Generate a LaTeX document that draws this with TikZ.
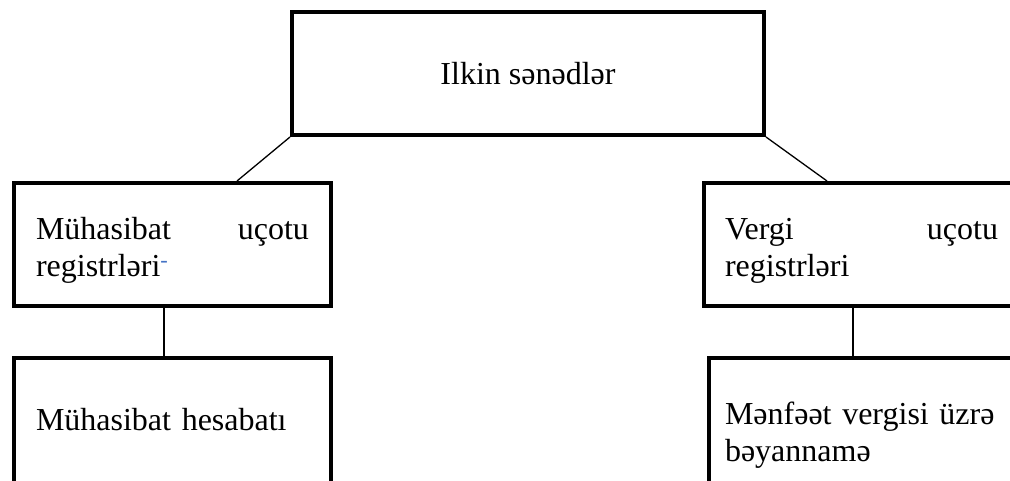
\documentclass[tikz,border=0pt]{standalone}
\usepackage{fontspec}
\setmainfont{Liberation Serif}
\usepackage{tikz}
\definecolor{markblue}{RGB}{68,114,196}

\begin{document}
\begin{tikzpicture}[x=1pt,y=-1pt,font=\fontsize{32}{37}\selectfont,
	box/.style={draw, rectangle, line width=4pt, minimum height=123pt},
	regbox/.style={box, anchor=north west, align=left, text height=25pt},
	link/.style={line width=1.3pt}]
\useasboundingbox (0,0) rectangle (1010,481);
\clip (0,0) rectangle (1010,481);
\node[box, minimum width=472pt] (ilkin) at (528,73.5) {Ilkin sənədlər};
\node[regbox, text width=273pt, inner xsep=22pt, text depth=34pt] (mreg) at (12,181)
	{Mühasibat\hfill uçotu\\registrləri\textsuperscript{\color{markblue}-}};
\node[regbox, minimum height=130pt, text width=273pt, inner xsep=22pt, text depth=11pt] (mrep) at (12,356)
	{Mühasibat hesabatı};
\node[regbox, text width=273pt, inner xsep=21pt, text depth=34pt] (vreg) at (702,181)
	{Vergi\hfill uçotu\\registrləri};
\node[regbox, minimum height=130pt, text width=290pt, inner xsep=16pt, text depth=23pt] (vbey) at (707,356)
	{Mənfəət vergisi üzrə\\bəyannamə};
\path[link]
(ilkin.south west) edge ([xshift=64.5pt]mreg.north)
(ilkin.south east) edge ([xshift=-34.5pt]vreg.north)
([xshift=-8.5pt]mreg.south) edge ([xshift=-8.5pt]mrep.north)
([xshift=-8.5pt]vreg.south) edge ([xshift=-17pt]vbey.north);
\end{tikzpicture}
\end{document}
